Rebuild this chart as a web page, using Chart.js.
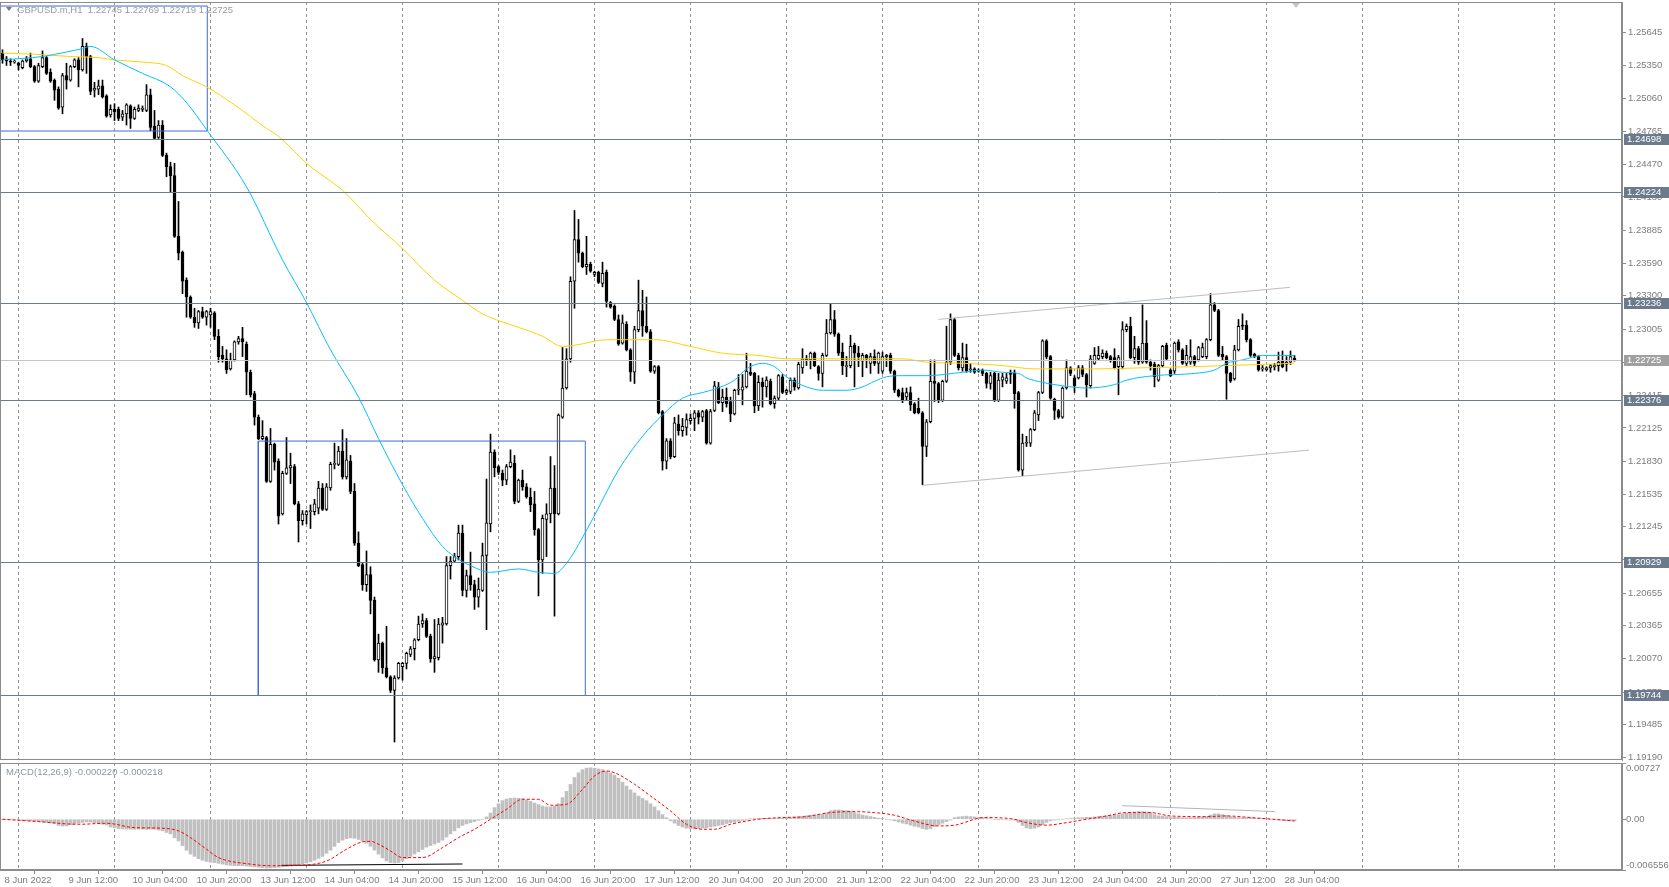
<!DOCTYPE html>
<html>
<head>
<meta charset="utf-8">
<script src="https://cdn.jsdelivr.net/npm/chart.js@4/dist/chart.umd.min.js"></script>
<style>
html,body{margin:0;padding:0;background:#ffffff;overflow:hidden;}
#wrap{position:relative;width:1669px;height:887px;background:#fff;}
#main{position:absolute;left:0;top:0;}
#macd{position:absolute;left:0;top:761px;}
</style>
</head>
<body>
<div id="wrap">
<canvas id="main" width="1669" height="761"></canvas>
<canvas id="macd" width="1669" height="126"></canvas>
</div>
<script>
// ---------- DATA (prices stored as pips above 1.0000, e.g. 2546 -> 1.2546) ----------
const opens = [
2546,2541,2539,2538,2537,2533,2539,2541,2534,2521,
2534,2542,2529,2522,2514,2498,2526,2522,2534,2540,
2531,2552,2543,2513,2514,2517,2508,2491,2496,2496,
2489,2492,2499,2488,2495,2496,2495,2509,2481,2471,
2482,2455,2445,2437,2383,2369,2344,2329,2311,2306,
2316,2311,2313,2315,2294,2277,2274,2265,2273,2289,
2292,2287,2262,2243,2222,2203,2204,2165,2198,2183,
2136,2172,2177,2178,2145,2130,2135,2138,2138,2141,
2159,2140,2159,2180,2180,2192,2169,2183,2156,2110,
2091,2073,2082,2059,2006,2021,1999,1991,1979,1990,
2000,2003,2011,2016,2024,2038,2041,2027,2007,2008,
2037,2038,2090,2094,2098,2119,2068,2081,2073,2062,
2068,2099,2127,2191,2178,2172,2166,2178,2181,2147,
2166,2160,2151,2145,2122,2095,2131,2136,2159,2136,
2222,2248,2274,2343,2380,2368,2356,2358,2349,2351,
2341,2351,2324,2321,2309,2288,2305,2282,2262,2300,
2317,2303,2298,2263,2267,2227,2183,2201,2187,2216,
2210,2213,2219,2221,2226,2222,2228,2199,2228,2249,
2235,2240,2236,2225,2246,2246,2249,2262,2261,2232,
2253,2249,2254,2234,2239,2258,2244,2245,2255,2248,
2266,2274,2273,2279,2267,2261,2277,2297,2309,2296,
2280,2267,2268,2286,2279,2272,2277,2270,2276,2270,
2263,2276,2277,2263,2246,2244,2240,2244,2234,2230,
2226,2196,2218,2254,2252,2237,2254,2271,2309,2277,
2266,2275,2264,2265,2263,2264,2261,2252,2261,2237,
2255,2254,2262,2261,2244,2175,2199,2199,2211,2224,
2244,2290,2276,2238,2228,2222,2248,2266,2257,2257,
2266,2260,2250,2270,2274,2276,2279,2276,2275,2267,
2267,2300,2303,2275,2283,2271,2288,2271,2269,2255,
2268,2286,2264,2263,2289,2282,2270,2271,2276,2273,
2276,2276,2291,2322,2317,2278,2276,2261,2256,2282,
2304,2304,2291,2278,2276,2265,2264,2266,2267,2268,
2272,2269,2271,2274.5];
const highs = [
2549,2543,2541,2540,2538,2540,2543,2546,2535,2537,
2548,2543,2532,2523,2516,2528,2537,2535,2541,2542,
2559,2555,2544,2520,2522,2522,2509,2500,2501,2498,
2495,2501,2500,2498,2500,2499,2518,2514,2495,2486,
2486,2457,2449,2448,2414,2370,2346,2330,2319,2317,
2320,2317,2319,2316,2300,2285,2282,2279,2290,2294,
2302,2289,2264,2245,2224,2219,2205,2212,2199,2185,
2174,2204,2190,2180,2147,2139,2139,2144,2149,2165,
2163,2163,2182,2199,2196,2211,2203,2188,2163,2120,
2092,2103,2089,2062,2029,2022,2036,1992,1992,2004,
2004,2013,2018,2025,2045,2047,2043,2029,2042,2043,
2044,2098,2098,2101,2126,2126,2086,2102,2077,2079,
2110,2167,2207,2193,2179,2175,2180,2193,2188,2167,
2175,2163,2159,2156,2123,2135,2145,2187,2179,2225,
2284,2283,2347,2406,2398,2369,2383,2360,2352,2352,
2360,2353,2325,2322,2313,2313,2307,2283,2303,2344,
2335,2329,2300,2268,2268,2228,2203,2203,2222,2224,
2221,2225,2225,2228,2228,2228,2229,2229,2254,2253,
2247,2248,2240,2247,2260,2260,2279,2270,2262,2259,
2257,2258,2256,2241,2260,2260,2247,2257,2257,2271,
2283,2277,2280,2280,2268,2279,2309,2323,2317,2297,
2288,2276,2295,2288,2285,2279,2278,2279,2282,2280,
2280,2278,2279,2264,2247,2248,2248,2249,2235,2239,
2227,2220,2273,2273,2253,2255,2303,2314,2310,2279,
2288,2287,2270,2266,2265,2265,2262,2262,2262,2261,
2261,2261,2264,2264,2245,2207,2205,2212,2228,2245,
2291,2291,2277,2239,2229,2249,2273,2267,2259,2268,
2268,2261,2277,2284,2285,2282,2281,2277,2283,2277,
2307,2305,2311,2294,2285,2322,2308,2273,2271,2269,
2286,2288,2265,2289,2291,2283,2286,2291,2277,2285,
2288,2292,2332,2324,2318,2285,2277,2262,2286,2309,
2314,2308,2292,2279,2277,2268,2267,2269,2270,2280,
2281,2276,2281,2276.9];
const lows = [
2537,2535,2535,2537,2531,2532,2538,2533,2520,2520,
2533,2527,2520,2504,2496,2492,2514,2521,2533,2516,
2530,2528,2509,2507,2509,2506,2489,2489,2486,2486,
2486,2482,2479,2487,2494,2494,2494,2477,2469,2470,
2454,2436,2422,2382,2362,2332,2311,2310,2302,2301,
2310,2304,2302,2291,2271,2271,2261,2264,2272,2287,
2276,2242,2240,2215,2202,2202,2164,2164,2175,2127,
2135,2171,2163,2144,2111,2126,2127,2123,2135,2136,
2139,2139,2157,2176,2179,2167,2167,2154,2108,2089,
2068,2067,2047,2005,1995,1994,1990,1977,1933,1989,
1988,1998,2009,2006,2023,2035,2026,2004,1995,2006,
2021,2037,2078,2093,2095,2063,2062,2068,2051,2053,
2067,2033,2120,2169,2171,2161,2162,2177,2145,2146,
2157,2150,2138,2117,2063,2083,2098,2128,2045,2135,
2221,2247,2271,2319,2360,2355,2349,2351,2347,2341,
2338,2320,2319,2308,2286,2287,2281,2254,2252,2298,
2294,2297,2262,2261,2225,2175,2176,2185,2186,2206,
2205,2206,2216,2210,2216,2218,2198,2198,2227,2234,
2227,2231,2218,2224,2242,2233,2248,2259,2226,2228,
2231,2240,2233,2230,2237,2243,2242,2243,2246,2247,
2261,2268,2265,2267,2255,2249,2276,2296,2294,2277,
2260,2258,2266,2249,2267,2258,2266,2261,2268,2261,
2261,2267,2261,2244,2240,2235,2237,2228,2225,2225,
2162,2187,2217,2236,2235,2236,2253,2269,2276,2264,
2263,2262,2262,2261,2262,2259,2248,2247,2236,2236,
2249,2252,2252,2230,2174,2170,2196,2196,2210,2219,
2243,2274,2238,2220,2221,2221,2247,2259,2244,2256,
2258,2240,2248,2269,2273,2274,2274,2271,2265,2242,
2265,2298,2274,2270,2269,2270,2270,2264,2249,2254,
2267,2273,2258,2261,2280,2269,2268,2269,2268,2272,
2275,2274,2290,2316,2276,2273,2238,2253,2255,2281,
2300,2289,2276,2275,2263,2263,2263,2262,2264,2263,
2266,2263,2269,2271.9];
const closes = [
2540,2539,2538,2539,2535,2539,2541,2534,2521,2535,
2542,2528,2521,2513,2497,2526,2522,2534,2540,2531,
2552,2543,2512,2515,2517,2507,2490,2496,2494,2488,
2492,2500,2488,2496,2497,2497,2509,2480,2470,2482,
2455,2445,2437,2383,2368,2343,2329,2311,2306,2316,
2311,2316,2316,2294,2276,2274,2264,2273,2289,2292,
2289,2262,2242,2222,2203,2205,2165,2198,2182,2134,
2172,2177,2179,2145,2130,2136,2138,2139,2145,2159,
2140,2160,2180,2181,2192,2169,2184,2156,2110,2090,
2073,2082,2059,2006,2021,1999,1991,1979,1990,2003,
2003,2012,2016,2024,2038,2041,2027,2007,2009,2038,
2039,2090,2094,2098,2119,2068,2081,2073,2062,2069,
2099,2128,2191,2177,2173,2166,2178,2182,2147,2166,
2160,2151,2144,2122,2095,2132,2136,2159,2136,2224,
2248,2274,2343,2380,2368,2356,2358,2352,2351,2342,
2350,2325,2320,2309,2287,2306,2282,2262,2300,2317,
2303,2298,2263,2267,2226,2183,2201,2187,2217,2210,
2214,2220,2221,2226,2222,2227,2199,2227,2250,2235,
2240,2234,2225,2246,2247,2249,2263,2260,2232,2253,
2249,2255,2234,2239,2259,2244,2246,2255,2249,2269,
2274,2273,2279,2268,2261,2277,2297,2309,2296,2279,
2268,2268,2285,2279,2276,2277,2274,2276,2270,2279,
2276,2277,2263,2246,2241,2237,2244,2233,2226,2226,
2196,2218,2254,2252,2237,2254,2271,2309,2277,2266,
2275,2263,2265,2262,2264,2261,2252,2259,2237,2255,
2258,2257,2260,2243,2175,2199,2200,2211,2226,2244,
2290,2276,2239,2228,2222,2248,2266,2261,2250,2266,
2260,2251,2274,2277,2277,2279,2275,2273,2266,2275,
2300,2303,2275,2283,2271,2288,2271,2268,2258,2268,
2285,2274,2259,2288,2282,2270,2277,2276,2270,2284,
2284,2291,2322,2317,2277,2276,2261,2254,2282,2303,
2303,2291,2277,2276,2264,2266,2266,2268,2268,2271,
2267,2271,2276,2272.5];

// moving averages (bar index, pips)
const maFastIdx = [0,10,16,20,22,28,35,42,46,51,61,70,76,82,89,94,100,105,110,113,117,122,129,134,138,141,147,154,160,165,170,175,178,183,186,190,193,196,201,205,211,215,218,221,225,231,240,245,250,254,256,260,265,271,278,281,288,298,303,306,310,315,323];
const maFastVal = [2540,2543,2547,2550,2552,2540,2528,2516,2502,2478,2427,2362,2324,2282,2240,2203,2162,2132,2107,2098,2090,2084,2087,2084,2083,2092,2128,2175,2205,2224,2239,2244,2247,2255,2265,2270,2267,2258,2249,2246,2246,2249,2254,2258,2259,2259,2262,2264,2262,2261,2257,2253,2250,2248,2251,2255,2259,2261,2264,2270,2273,2277,2277];
const maSlowIdx = [0,8,17,24,28,35,41,45,51,58,66,69,76,82,85,92,100,108,115,120,124,129,135,140,143,151,163,172,180,189,196,218,225,231,240,250,258,273,285,298,306,315,323];
const maSlowVal = [2546,2545,2543,2542,2540,2538,2535,2526,2516,2500,2479,2472,2448,2432,2424,2398,2372,2344,2326,2314,2308,2302,2294,2285,2286,2291,2291,2285,2279,2277,2274,2274,2274,2271,2270,2268,2265,2265,2266,2267,2268,2269,2270];

// MACD main (histogram) and signal, in units of 0.00001
const macdHist = [-3,-4,-6,-8,-10,
-18,-20,-22,-25,-30,-35,-40,-48,-55,
-80,-88,-86,
-70,-60,-50,-40,-35,-35,
-45,-55,-65,-75,
-100,-110,
-120,-125,-128,-130,-130,-128,-128,-130,-128,-130,-140,-150,
-170,-190,
-240,-280,
-340,-400,-450,-480,
-510,-530,-545,-555,-560,
-570,-580,-590,-595,-600,-600,-600,-605,-610,-615,
-620,-625,-630,-630,-625,-620,-615,-610,-605,
-595,-585,-575,-565,-550,-530,-505,-480,
-440,-400,-350,-300,-270,-250,
-240,-245,-260,-285,-310,
-350,-400,-450,-500,-540,-560,-565,-560,-540,
-510,-480,-450,-420,-390,
-360,-340,-320,-300,-270,-230,-190,-150,-110,
-80,-60,-45,-30,-15,0,
30,80,150,200,
240,260,270,275,270,265,250,230,
210,190,170,160,160,170,200,
280,360,450,540,
600,640,660,665,660,650,640,
620,600,570,530,480,430,
380,340,300,270,
240,200,160,
110,60,20,
-20,-50,-80,-100,-115,-120,
-125,-120,-115,-110,-100,-90,
-80,-70,-55,-45,-35,-25,-15,-5,
5,8,10,12,12,10,10,12,12,15,20,
30,35,40,45,50,55,60,62,
80,110,120,120,115,110,
100,85,70,55,45,35,25,15,10,
0,-10,-20,-35,-50,-60,
-75,-90,-100,-120,-130,-120,-95,-70,
-50,-30,-10,
20,30,35,40,35,30,25,20,
10,5,0,-2,-5,-8,-10,-12,
-40,-80,-110,-120,-115,-100,
-70,-40,-20,-10,-5,0,5,
10,15,20,20,25,25,30,35,40,45,50,55,
60,70,80,90,95,100,100,95,90,
60,45,40,35,30,25,25,20,20,20,22,25,30,35,
55,70,70,60,50,
35,25,20,20,20,18,15,12,10,
5,0,-5,-10,-15,-18,-20,-22];
const sigIdx = [0,9,19,26,33,40,44,47,51,54,62,67,74,81,86,90,92,94,97,100,105,110,114,118,122,126,130,134,137,141,145,148,151,153,158,162,167,171,175,178,182,189,195,200,207,212,218,223,227,234,238,243,245,252,256,261,265,270,276,281,287,292,301,306,312,320,323];
const sigVal = [0,-30,-65,-52,-108,-116,-150,-237,-387,-495,-580,-600,-595,-540,-387,-292,-285,-323,-409,-495,-495,-366,-237,-129,0,129,258,258,181,194,387,560,624,602,452,301,108,-65,-129,-129,-65,0,22,30,86,99,86,52,-9,-86,-77,0,22,9,-43,-77,-52,-9,43,86,86,43,34,43,22,-9,-22];

// drawn objects
const levelPrices = [1.24698, 1.24224, 1.23236, 1.22376, 1.20929, 1.19744];
const bidPrice = 1.22725;
const zoneAIdx = [-3, 51.2];   const zoneAPrice = [1.24767, 1.25879];
const zoneBIdx = [63.95, 145.7]; const zoneBPrice = [1.19744, 1.22008];
const chanUpIdx = [233.95, 321.9]; const chanUpPrice = [1.23091, 1.23376];
const chanLoIdx = [229.95, 326.6]; const chanLoPrice = [1.21614, 1.21927];
const macdTrendGrayIdx = [279.9, 318.1]; const macdTrendGrayVal = [176, 99];
const macdTrendBlackIdx = [69.75, 115]; const macdTrendBlackVal = [-596, -578];

// axes
const priceTicks = ['1.25645','1.25350','1.25060','1.24765','1.24470','1.24180','1.23885','1.23590','1.23300','1.23005','1.22710','1.22415','1.22125','1.21830','1.21535','1.21245','1.20950','1.20655','1.20365','1.20070','1.19775','1.19485','1.19190'];
const macdTickVals = [0.00727, 0, -0.006556];
const macdTickLabels = ['0.00727', '0.00', '-0.006556'];
const xLabelIdx = [0,16,32,48,64,80,96,112,128,144,160,176,192,208,224,240,256,272,288,304,320];
const xLabels = ['8 Jun 2022','9 Jun 12:00','10 Jun 04:00','10 Jun 20:00','13 Jun 12:00','14 Jun 04:00','14 Jun 20:00','15 Jun 12:00','16 Jun 04:00','16 Jun 20:00','17 Jun 12:00','20 Jun 04:00','20 Jun 20:00','21 Jun 12:00','22 Jun 04:00','22 Jun 20:00','23 Jun 12:00','24 Jun 04:00','24 Jun 20:00','27 Jun 12:00','28 Jun 04:00'];
const gridIdx = [4,28,52,76,100,124,148,172,196,220,244,268,292,316,340,364,388];
const headerText = 'GBPUSD.m,H1  1.22745 1.22769 1.22719 1.22725';
const macdTitle = 'MACD(12,26,9) -0.000220 -0.000218';

// ---------- STYLE ----------
const FONT = "'Liberation Sans',Arial,sans-serif";
const FS = 9.5;
const TEXT = '#7c7c7c';
const FRAME = '#8c8c8c';
const GRIDC = '#929292';
const LEVELC = '#6b7b8c';
const X_MIN = -0.625, X_MAX = 404.875;

Chart.defaults.font.family = FONT;
Chart.defaults.font.size = FS;
Chart.defaults.color = TEXT;
Chart.defaults.animation = false;

const px = v => 1 + v / 10000;
const idx = closes.map((_, i) => i);
const rectPts = (ix, pr) => [
  {x: ix[0], y: pr[0]}, {x: ix[1], y: pr[0]}, {x: ix[1], y: pr[1]}, {x: ix[0], y: pr[1]}, {x: ix[0], y: pr[0]}];
const linePts = (ix, vals, f) => ix.map((x, k) => ({x, y: f(vals[k])}));

const dashGrid = {
  id: 'dashGrid',
  beforeDatasetsDraw(chart) {
    const {ctx, chartArea: a, scales: {x}} = chart;
    ctx.save();
    ctx.strokeStyle = GRIDC; ctx.lineWidth = 1; ctx.setLineDash([3, 3]);
    gridIdx.forEach(v => {
      const p = Math.floor(x.getPixelForValue(v)) + 0.5;
      if (p <= a.left + 1 || p >= a.right - 1) return;
      ctx.beginPath(); ctx.moveTo(p, a.top); ctx.lineTo(p, a.bottom); ctx.stroke();
    });
    ctx.restore();
  }
};

const mainOverlay = {
  id: 'mainOverlay',
  afterDatasetsDraw(chart) {
    const {ctx, chartArea: a, scales: {y}} = chart;
    ctx.save();
    ctx.lineWidth = 1;
    ctx.strokeStyle = '#c4c4c4';
    let p = Math.round(y.getPixelForValue(bidPrice)) + 0.5;
    ctx.beginPath(); ctx.moveTo(a.left, p); ctx.lineTo(a.right, p); ctx.stroke();
    ctx.strokeStyle = LEVELC;
    levelPrices.forEach(v => {
      const q = Math.round(y.getPixelForValue(v)) + 0.5;
      ctx.beginPath(); ctx.moveTo(a.left, q); ctx.lineTo(a.right, q); ctx.stroke();
    });
    ctx.restore();
  },
  afterDraw(chart) {
    const {ctx, chartArea: a, scales: {y}} = chart;
    ctx.save();
    ctx.font = FS + 'px ' + FONT;
    ctx.textBaseline = 'middle';
    const box = (v, bg) => {
      const q = Math.round(y.getPixelForValue(v));
      ctx.fillStyle = bg; ctx.fillRect(a.right + 2, q - 5, 45, 11);
      ctx.fillStyle = '#ffffff'; ctx.fillText(v.toFixed(5), a.right + 5, q + 0.5);
    };
    levelPrices.forEach(v => box(v, LEVELC));
    box(bidPrice, '#a0a0a0');
    // frame
    ctx.strokeStyle = FRAME; ctx.lineWidth = 1;
    ctx.strokeRect(a.left + 0.5, a.top + 0.5, a.width - 1, a.height - 1);
    // header
    ctx.fillStyle = '#7a7a7a';
    ctx.beginPath(); ctx.moveTo(6, 7); ctx.lineTo(12, 7); ctx.lineTo(9, 11); ctx.closePath(); ctx.fill();
    ctx.fillStyle = '#9c9c9c';
    ctx.textBaseline = 'middle';
    ctx.fillText(headerText, 17, 10);
    // chart shift marker
    ctx.fillStyle = '#c8c8c8';
    ctx.beginPath(); ctx.moveTo(1292, 3); ctx.lineTo(1300, 3); ctx.lineTo(1296, 8); ctx.closePath(); ctx.fill();
    ctx.restore();
  }
};

const macdOverlay = {
  id: 'macdOverlay',
  afterDraw(chart) {
    const {ctx, chartArea: a, scales: {y}} = chart;
    ctx.save();
    ctx.strokeStyle = FRAME; ctx.lineWidth = 1;
    ctx.strokeRect(a.left + 0.5, a.top + 0.5, a.width - 1, a.height - 1);
    ctx.font = FS + 'px ' + FONT;
    ctx.fillStyle = TEXT;
    ctx.textAlign = 'left';
    macdTickVals.forEach((v, k) => {
      const q = y.getPixelForValue(v);
      ctx.textBaseline = k === 0 ? 'top' : (k === 2 ? 'bottom' : 'middle');
      ctx.fillText(macdTickLabels[k], a.right + 4, k === 0 ? q + 1 : (k === 2 ? q : q + 0.5));
    });
    ctx.fillStyle = '#8a96a4';
    ctx.textBaseline = 'middle';
    ctx.fillText(macdTitle, 6, a.top + 9);
    ctx.restore();
  }
};

const xBase = {type: 'linear', min: X_MIN, max: X_MAX, offset: false};

new Chart(document.getElementById('main'), {
  type: 'bar',
  data: {
    datasets: [
      {type: 'line', label: 'MA fast', data: linePts(maFastIdx, maFastVal, px), borderColor: '#00bfff', borderWidth: 1, pointRadius: 0, cubicInterpolationMode: 'monotone', order: 0},
      {type: 'line', label: 'MA slow', data: linePts(maSlowIdx, maSlowVal, px), borderColor: '#ffd200', borderWidth: 1, pointRadius: 0, cubicInterpolationMode: 'monotone', order: 0},
      {type: 'line', label: 'zone A', data: rectPts(zoneAIdx, zoneAPrice), borderColor: '#3f6ae0', borderWidth: 1, pointRadius: 0, tension: 0, order: 0},
      {type: 'line', label: 'zone B', data: rectPts(zoneBIdx, zoneBPrice), borderColor: '#3f6ae0', borderWidth: 1, pointRadius: 0, tension: 0, order: 0},
      {type: 'line', label: 'channel up', data: linePts(chanUpIdx, chanUpPrice, v => v), borderColor: '#bdbdbd', borderWidth: 1, pointRadius: 0, order: 1},
      {type: 'line', label: 'channel low', data: linePts(chanLoIdx, chanLoPrice, v => v), borderColor: '#bdbdbd', borderWidth: 1, pointRadius: 0, order: 1},
      {type: 'bar', label: 'body', data: idx.map(i => ({x: i, y: [px(opens[i]), px(closes[i])]})),
        backgroundColor: idx.map(i => closes[i] >= opens[i] ? '#ffffff' : '#000000'),
        borderColor: '#000000', borderWidth: 1, borderSkipped: false, minBarLength: 1,
        grouped: false, maxBarThickness: 3, barPercentage: 1, categoryPercentage: 1, order: 2},
      {type: 'bar', label: 'wick', data: idx.map(i => ({x: i, y: [px(lows[i]), px(highs[i])]})),
        backgroundColor: '#000000', borderWidth: 0, minBarLength: 1,
        grouped: false, maxBarThickness: 1, barPercentage: 1, categoryPercentage: 1, order: 3}
    ]
  },
  options: {
    responsive: false, devicePixelRatio: 1, animation: false,
    layout: {padding: {top: 2, left: 0, right: 0, bottom: 1}},
    plugins: {legend: {display: false}, tooltip: {enabled: false}},
    scales: {
      x: Object.assign({}, xBase, {display: false}),
      y: {
        type: 'linear', position: 'right', min: 1.19170, max: 1.25915,
        afterBuildTicks: s => { s.ticks = priceTicks.map(t => ({value: parseFloat(t)})); },
        afterFit: s => { s.width = 47; s.paddingTop = 0; s.paddingBottom = 0; },
        ticks: {callback: v => v.toFixed(5), padding: 2, autoSkip: false, color: TEXT, font: {size: FS}},
        grid: {drawOnChartArea: false, drawTicks: true, tickLength: 4, color: FRAME},
        border: {display: true, color: FRAME}
      }
    }
  },
  plugins: [dashGrid, mainOverlay]
});

new Chart(document.getElementById('macd'), {
  type: 'bar',
  data: {
    datasets: [
      {type: 'line', label: 'signal', data: linePts(sigIdx, sigVal, v => v / 100000), borderColor: '#ff0000', borderWidth: 1, borderDash: [3, 2], pointRadius: 0, cubicInterpolationMode: 'monotone', order: 0},
      {type: 'line', label: 'trend gray', data: linePts(macdTrendGrayIdx, macdTrendGrayVal, v => v / 100000), borderColor: '#b4b4b4', borderWidth: 1, pointRadius: 0, order: 0},
      {type: 'line', label: 'trend black', data: linePts(macdTrendBlackIdx, macdTrendBlackVal, v => v / 100000), borderColor: '#000000', borderWidth: 1, pointRadius: 0, order: 0},
      {type: 'bar', label: 'MACD', data: idx.map(i => ({x: i, y: macdHist[i] / 100000})),
        backgroundColor: '#c0c0c0', borderWidth: 0, grouped: false, maxBarThickness: 3, barPercentage: 1, categoryPercentage: 1, order: 2}
    ]
  },
  options: {
    responsive: false, devicePixelRatio: 1, animation: false,
    layout: {padding: {top: 2, left: 0, right: 0, bottom: 0}},
    plugins: {legend: {display: false}, tooltip: {enabled: false}},
    scales: {
      x: Object.assign({}, xBase, {
        position: 'bottom',
        afterBuildTicks: s => { s.ticks = xLabelIdx.map(v => ({value: v})); },
        afterFit: s => { s.height = 17; s.paddingLeft = 0; s.paddingRight = 0; },
        ticks: {callback: (v, k) => xLabels[k], align: 'start', labelOffset: 2, padding: 1, maxRotation: 0, minRotation: 0, autoSkip: false, color: TEXT, font: {size: FS}},
        grid: {drawOnChartArea: false, drawTicks: true, tickLength: 4, color: FRAME},
        border: {display: true, color: FRAME}
      }),
      y: {
        type: 'linear', position: 'right', min: -0.006556, max: 0.00727,
        afterBuildTicks: s => { s.ticks = macdTickVals.map(v => ({value: v})); },
        afterFit: s => { s.width = 47; s.paddingTop = 0; s.paddingBottom = 0; },
        ticks: {display: false},
        grid: {drawOnChartArea: false, drawTicks: true, tickLength: 4, color: FRAME},
        border: {display: true, color: FRAME}
      }
    }
  },
  plugins: [dashGrid, macdOverlay]
});
</script>
</body>
</html>
